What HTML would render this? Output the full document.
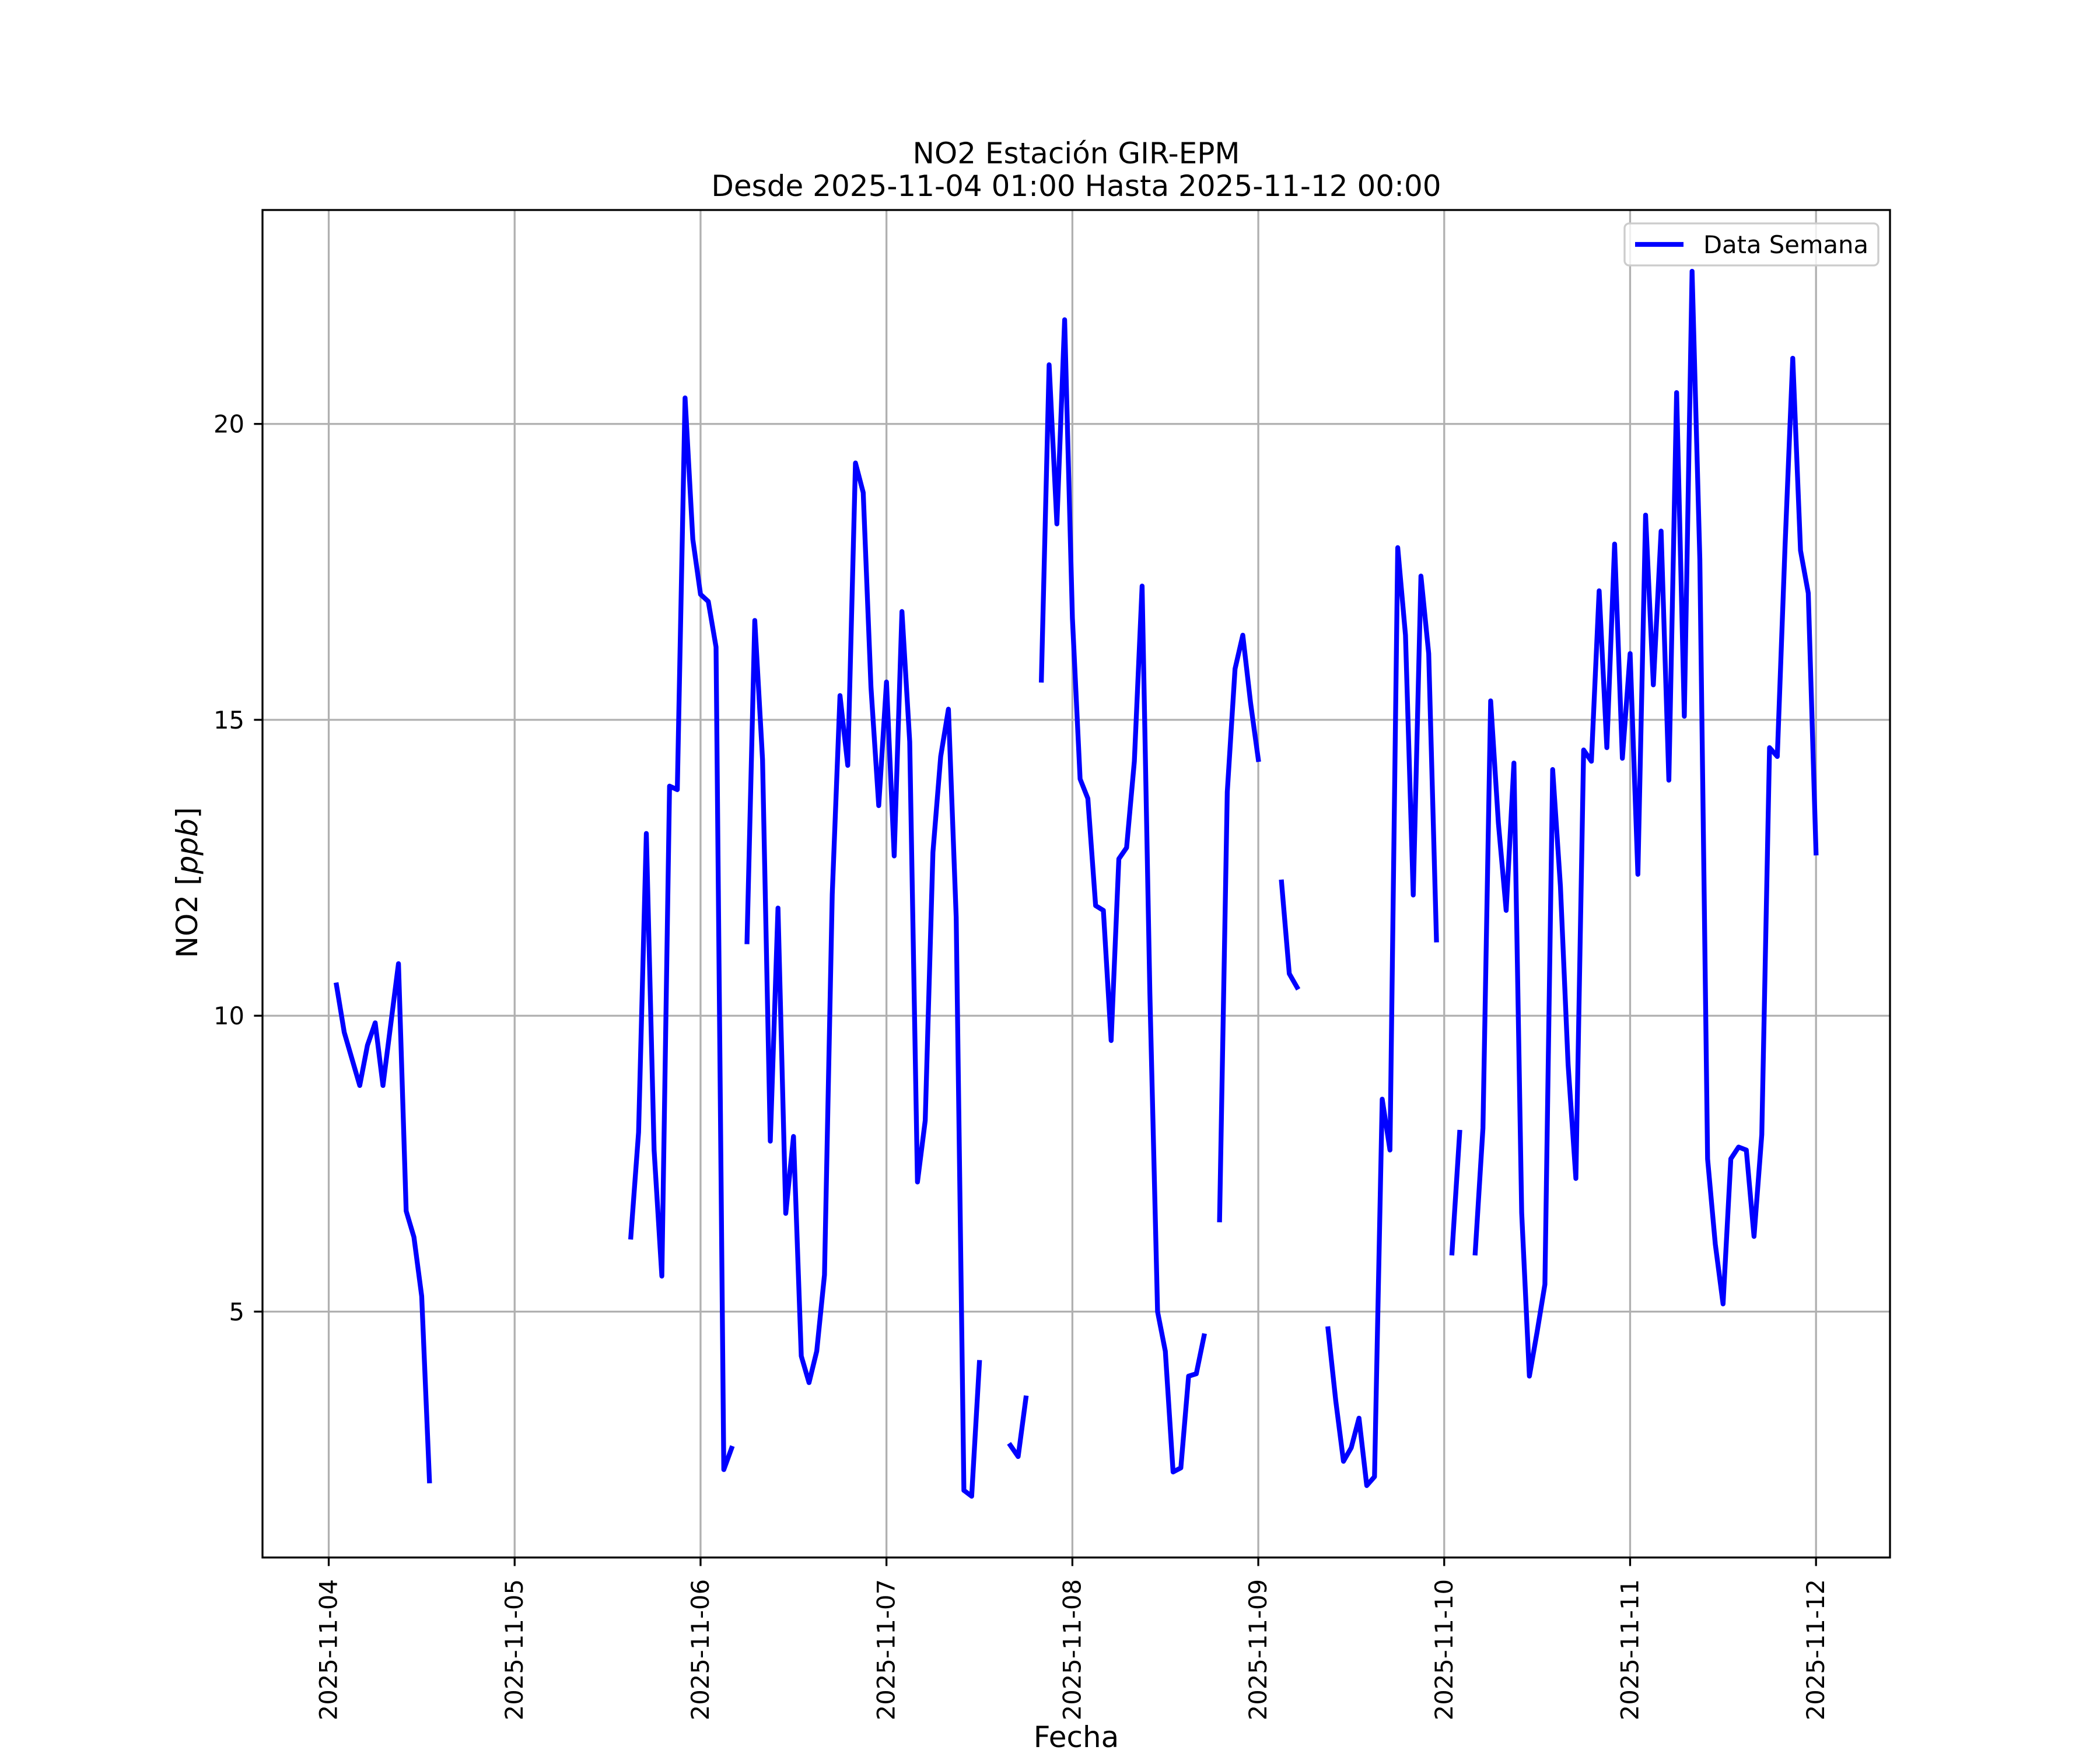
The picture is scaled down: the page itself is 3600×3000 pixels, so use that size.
<!DOCTYPE html>
<html><head><meta charset="utf-8"><title>NO2 Estación GIR-EPM</title>
<style>html,body{margin:0;padding:0;background:#fff}svg{display:block}text{font-family:"DejaVu Sans","Liberation Sans",sans-serif}</style>
</head><body>
<svg id="chart" xmlns="http://www.w3.org/2000/svg" width="3600" height="3000" viewBox="0 0 3600 3000">
<rect width="3600" height="3000" fill="#fff"/>
<g id="grid"></g>
<g id="series"></g>
<rect x="450" y="360" width="2790" height="2310" fill="none" stroke="#000" stroke-width="3.3"/>
<g id="ticks"></g>
<text x="1845" y="280" font-size="50" text-anchor="middle">NO2 Estación GIR-EPM</text>
<text x="1845" y="336" font-size="50" text-anchor="middle">Desde 2025-11-04 01:00 Hasta 2025-11-12 00:00</text>
<text x="1845" y="2995" font-size="50" text-anchor="middle">Fecha</text>
<text transform="translate(338,1513) rotate(-90)" font-size="50" text-anchor="middle">NO2 [<tspan font-style="italic">ppb</tspan>]</text>
<g>
<rect x="2785" y="383" width="435" height="72" rx="8" fill="#fff" fill-opacity="0.8" stroke="#cccccc" stroke-width="3.3"/>
<line x1="2803" y1="419" x2="2886" y2="419" stroke="#0000ff" stroke-width="8.3"/>
<text x="2920" y="434" font-size="41.7">Data Semana</text>
</g>
</svg>
<script>
const startHour = 1;
const dayLabels = ["2025-11-04","2025-11-05","2025-11-06","2025-11-07","2025-11-08","2025-11-09","2025-11-10","2025-11-11","2025-11-12"];
const yTicks = [5, 10, 15, 20];
const no2 = [
10.52,9.72,9.27,8.82,9.5,9.88,8.82,9.85,10.88,6.70,6.26,5.26,2.14,
null,null,null,null,null,null,null,null,null,null,null,null,null,null,null,null,null,null,null,null,null,null,null,null,null,
6.26,8.03,13.08,7.73,5.6,13.88,13.82,20.44,18.05,17.12,17.0,16.23,2.33,2.69,
null,
11.25,16.68,14.33,7.88,11.82,6.66,7.96,4.25,3.80,4.33,5.62,12.05,15.41,14.23,19.34,18.84,15.55,13.55,15.64,12.70,16.83,14.63,7.19,8.23,12.76,14.38,15.18,11.66,1.98,1.88,4.14,
null,null,null,
2.74,2.55,3.54,
null,
15.67,21.0,18.31,21.76,16.72,14.0,13.67,11.86,11.78,9.58,12.65,12.84,14.30,17.26,10.38,5.0,4.33,2.29,2.36,3.91,3.95,4.59,
null,
6.55,13.78,15.86,16.43,15.29,14.33,
null,null,
12.26,10.71,10.48,
null,null,null,
4.71,3.49,2.47,2.70,3.20,2.06,2.21,8.59,7.73,17.91,16.43,12.04,17.43,16.12,11.28,
null,
5.99,8.03,
null,
5.99,8.10,15.32,13.25,11.78,14.27,6.67,3.91,4.66,5.46,14.16,12.19,9.17,7.25,14.49,14.30,17.18,14.53,17.97,14.35,16.12,12.39,18.46,15.59,18.19,13.98,20.53,15.06,22.58,17.71,7.58,6.14,5.13,7.58,7.78,7.73,6.27,7.99,14.53,14.38,17.94,21.11,17.86,17.14,12.75
];

const NS = "http://www.w3.org/2000/svg";
const AX = {l:450, r:3240, t:360, b:2670};
// x domain in days (matplotlib 5% margins)
const firstD = startHour/24, lastD = (startHour + no2.length - 1)/24;
const xMin = firstD - 0.05*(lastD-firstD), xMax = lastD + 0.05*(lastD-firstD);
const vals = no2.filter(v => v !== null);
const vMin = Math.min(...vals), vMax = Math.max(...vals);
const yMin = vMin - 0.05*(vMax-vMin), yMax = vMax + 0.05*(vMax-vMin);
function xScale(d){ return AX.l + (d - xMin)/(xMax - xMin)*(AX.r - AX.l); }
function yScale(v){ return AX.b - (v - yMin)/(yMax - yMin)*(AX.b - AX.t); }
function mk(tag, attrs, parent){ const e=document.createElementNS(NS,tag); for(const k in attrs) e.setAttribute(k, attrs[k]); parent.appendChild(e); return e; }

const grid = document.getElementById('grid');
const ticks = document.getElementById('ticks');
dayLabels.forEach((lab, i) => {
  const x = xScale(i);
  const g = mk('line', {x1:x, x2:x, y1:AX.t, y2:AX.b, stroke:'#b0b0b0', 'stroke-width':3.3}, grid);
  
  
  const t = mk('line', {x1:x, x2:x, y1:AX.b, y2:AX.b+14.6, stroke:'#000', 'stroke-width':3.3}, ticks);
  
  
  const tx = mk('text', {transform:`translate(${x+14},2707) rotate(-90)`, 'font-size':41.7, 'text-anchor':'end'}, ticks);
  tx.textContent = lab;
  
  
});
yTicks.forEach(v => {
  const y = yScale(v);
  const g = mk('line', {x1:AX.l, x2:AX.r, y1:y, y2:y, stroke:'#b0b0b0', 'stroke-width':3.3}, grid);
  
  
  const t = mk('line', {x1:AX.l-14.6, x2:AX.l, y1:y, y2:y, stroke:'#000', 'stroke-width':3.3}, ticks);
  
  
  const tx = mk('text', {x:419, y:y+15, 'font-size':41.7, 'text-anchor':'end'}, ticks);
  tx.textContent = String(v);
  
  
});

let d = '', pen = false;
no2.forEach((v, i) => {
  if (v === null) { pen = false; return; }
  const x = xScale((startHour + i)/24), y = yScale(v);
  d += (pen ? 'L' : 'M') + x.toFixed(1) + ' ' + y.toFixed(1) + ' ';
  pen = true;
});
const line = mk('path', {d:d, fill:'none', stroke:'#0000ff', 'stroke-width':8.3, 'stroke-linejoin':'round', 'stroke-linecap':'square'}, document.getElementById('series'));


</script>
</body></html>
